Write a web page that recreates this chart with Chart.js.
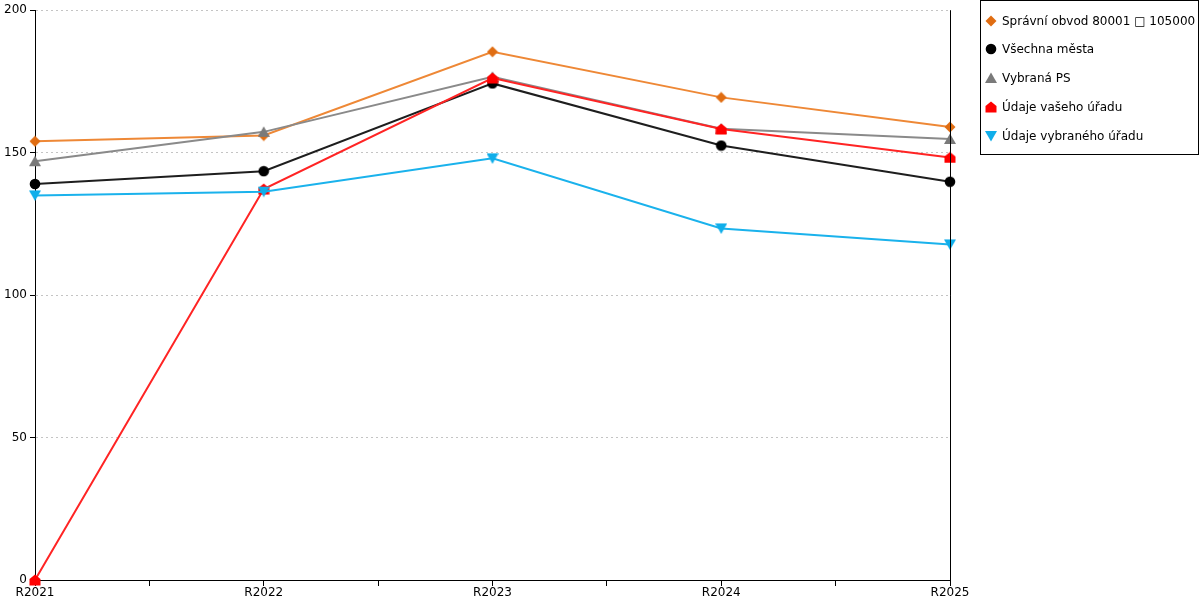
<!DOCTYPE html>
<html>
<head>
<meta charset="utf-8">
<script src="https://cdn.jsdelivr.net/npm/chart.js@4"></script>
<style>
  body { margin: 0; background: #fff; }
  #wrap { position: relative; width: 1200px; height: 600px; }
  #legend {
    position: absolute; left: 980px; top: 0; width: 217px; height: 153px;
    border: 1px solid #000; font: 12px "DejaVu Sans", sans-serif; color: #000;
  }
  .item { position: absolute; left: 4px; height: 16px; display: flex; align-items: center; white-space: nowrap; }
  .item canvas { margin-right: 5px; }
</style>
</head>
<body>
<div id="wrap">
  <canvas id="chart" width="1200" height="600"></canvas>
  <div id="legend"></div>
</div>
<script>
// --- DATA ---
const kategorie = ["R2021", "R2022", "R2023", "R2024", "R2025"];
const yTicks = [0, 50, 100, 150, 200];

const spravniObvod = [154.0, 156.0, 185.4, 169.4, 159.0];
const vsechnaMesta = [139.0, 143.5, 174.3, 152.5, 139.8];
const vybranaPS = [147.0, 157.3, 176.6, 158.4, 154.8];
const vasUrad = [0, 137.2, 176.2, 158.3, 148.3];
const vybranyUrad = [135.0, 136.3, 148.0, 123.4, 117.8];

const nazvy = ["Správní obvod 80001 □ 105000", "Všechna města", "Vybraná PS", "Údaje vašeho úřadu", "Údaje vybraného úřadu"];
const tvary = ["diamond", "circle", "up", "house", "down"];

// --- ZNAČKY ---
function znacka(typ, barva) {
    const s = 12, m = s / 2;
    const c = document.createElement("canvas");
    c.width = s; c.height = s;
    const ctx = c.getContext("2d");
    ctx.fillStyle = barva;
    ctx.beginPath();
    if (typ === "diamond") {
        ctx.moveTo(m, 0.5); ctx.lineTo(s - 0.5, m); ctx.lineTo(m, s - 0.5); ctx.lineTo(0.5, m);
    } else if (typ === "circle") {
        ctx.arc(m, m, 5.3, 0, Math.PI * 2);
    } else if (typ === "up") {
        ctx.moveTo(m, 0.5); ctx.lineTo(s, s - 1); ctx.lineTo(0, s - 1);
    } else if (typ === "house") {
        ctx.moveTo(m, 0.5); ctx.lineTo(s - 0.5, 5); ctx.lineTo(s - 0.5, s - 0.5); ctx.lineTo(0.5, s - 0.5); ctx.lineTo(0.5, 5);
    } else if (typ === "down") {
        ctx.moveTo(0, 1); ctx.lineTo(s, 1); ctx.lineTo(m, s - 0.5);
    }
    ctx.closePath();
    ctx.fill();
    return c;
}

const barvyZnacek = ["#e06d12", "#000000", "#7a7a7a", "#ff0000", "#10aeea"];
const serie = [
    { data: spravniObvod, line: "#ee8836", order: 4 },
    { data: vsechnaMesta, line: "#1e1e1e", order: 2 },
    { data: vybranaPS, line: "#8a8a8a", order: 3 },
    { data: vasUrad, line: "#ff2424", order: 1 },
    { data: vybranyUrad, line: "#1ab2ec", order: 0 }
];

// --- PLUGIN: pravý okraj ---
const pravyOkraj = {
    id: "pravyOkraj",
    afterDatasetsDraw(chart) {
        const { ctx, chartArea } = chart;
        ctx.save();
        ctx.strokeStyle = "#000";
        ctx.lineWidth = 1;
        ctx.beginPath();
        ctx.moveTo(Math.round(chartArea.right) + 0.5, chartArea.top);
        ctx.lineTo(Math.round(chartArea.right) + 0.5, chartArea.bottom);
        ctx.stroke();
        ctx.restore();
    }
};

new Chart(document.getElementById("chart"), {
    type: "line",
    data: {
        datasets: serie.map((s, i) => ({
            label: nazvy[i],
            data: s.data.map((v, j) => ({ x: j, y: v })),
            borderColor: s.line,
            backgroundColor: s.line,
            borderWidth: 2,
            pointStyle: znacka(tvary[i], barvyZnacek[i]),
            pointRadius: 6,
            tension: 0,
            clip: false,
            order: s.order
        }))
    },
    plugins: [pravyOkraj],
    options: {
        responsive: false,
        animation: false,
        events: [],
        layout: { padding: { left: 0, top: 10, right: 250, bottom: 0 } },
        plugins: { legend: { display: false }, tooltip: { enabled: false } },
        scales: {
            x: {
                type: "linear",
                min: 0,
                max: kategorie.length - 1,
                afterFit: (scale) => { scale.height = 20; },
                afterBuildTicks: (scale) => {
                    const t = [];
                    for (let v = 0; v <= kategorie.length - 1; v += 0.5) t.push({ value: v });
                    scale.ticks = t;
                },
                ticks: {
                    autoSkip: false,
                    maxRotation: 0,
                    padding: 0,
                    color: "#000",
                    font: { family: "DejaVu Sans", size: 12 },
                    callback: (v) => Number.isInteger(v) ? kategorie[v] : ""
                },
                grid: { drawOnChartArea: false, tickLength: 6, color: "#000" },
                border: { color: "#000", width: 1 }
            },
            y: {
                min: yTicks[0],
                max: yTicks[yTicks.length - 1],
                afterFit: (scale) => { scale.width = 35; },
                afterBuildTicks: (scale) => { scale.ticks = yTicks.map(v => ({ value: v })); },
                ticks: {
                    padding: 3,
                    color: "#000",
                    font: { family: "DejaVu Sans", size: 12 }
                },
                grid: { color: "#c4c4c4", tickColor: "#000", tickLength: 5, lineWidth: 1 },
                border: { color: "#000", width: 1, dash: [2, 3] }
            }
        }
    }
});

// --- LEGENDA ---
const legendEl = document.getElementById("legend");
const radky = [20, 48, 77, 106, 135];
serie.forEach((s, i) => {
    const item = document.createElement("div");
    item.className = "item";
    item.style.top = (radky[i] - 8) + "px";
    const ic = znacka(tvary[i], barvyZnacek[i]);
    item.appendChild(ic);
    const t = document.createElement("span");
    t.textContent = nazvy[i];
    item.appendChild(t);
    legendEl.appendChild(item);
});
</script>
</body>
</html>
